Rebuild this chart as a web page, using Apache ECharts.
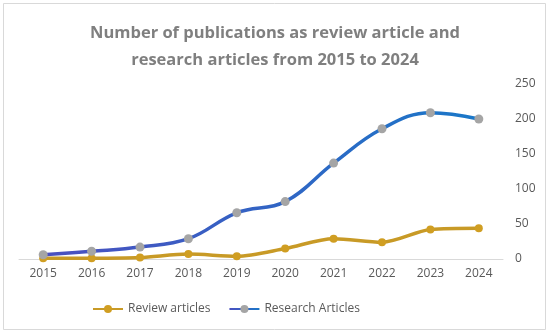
<!DOCTYPE html>
<html><head><meta charset="utf-8">
<script src="https://cdn.jsdelivr.net/npm/echarts@6/dist/echarts.min.js"></script>
<style>html,body{margin:0;padding:0;background:#fff}#c{width:550px;height:333px}</style>
</head><body><div id="c"></div>
<script>
const years = ['2015','2016','2017','2018','2019','2020','2021','2022','2023','2024'];
const reviewArticles = [1, 1, 2, 7, 4, 15, 29, 24, 42, 44];
const researchArticles = [6, 11, 17, 29, 66, 82, 137, 186, 209, 200];
const yTicks = {min: 0, max: 250, interval: 50};

const chart = echarts.init(document.getElementById('c'));
chart.setOption({
  backgroundColor: '#fff',
  animation: false,
  title: {
    text: 'Number of publications as review article and\nresearch articles from 2015 to 2024',
    left: 'center', top: 15,
    textStyle: {fontFamily: 'Open Sans', fontWeight: 'bold', fontSize: 16.5, color: '#7f7f7f', lineHeight: 27}
  },
  graphic: [{type: 'rect', shape: {x: 3.5, y: 3.5, width: 542, height: 326}, style: {fill: 'none', stroke: '#d9d9d9', lineWidth: 1}, silent: true}],
  legend: {
    bottom: 13, left: 87, itemGap: 18, itemWidth: 30, itemHeight: 10,
    textStyle: {fontFamily: 'Open Sans', fontSize: 12, color: '#595959'},
    data: ['Review articles', 'Research Articles']
  },
  grid: {left: 19, right: 47, top: 84, bottom: 74},
  xAxis: {
    type: 'category', data: years, boundaryGap: true,
    axisLine: {lineStyle: {color: '#d9d9d9'}}, axisTick: {show: false},
    axisLabel: {fontFamily: 'Open Sans', fontSize: 12, color: '#595959', margin: 9}
  },
  yAxis: {
    type: 'value', position: 'right', min: yTicks.min, max: yTicks.max, interval: yTicks.interval,
    axisLine: {show: false}, axisTick: {show: false}, splitLine: {show: false},
    axisLabel: {fontFamily: 'Open Sans', fontSize: 12, color: '#595959', margin: 12}
  },
  series: [
    {name: 'Review articles', type: 'line', data: reviewArticles, smooth: 0.3,
     lineStyle: {width: 3.5, color: '#c89a26'}, itemStyle: {color: '#d09e22'},
     symbol: 'circle', symbolSize: 8},
    {name: 'Research Articles', type: 'line', data: researchArticles, smooth: 0.4,
     lineStyle: {width: 3.5, color: new echarts.graphic.LinearGradient(0,0,1,0,[{offset:0,color:'#4b4fc0'},{offset:1,color:'#1a78c8'}])},
     itemStyle: {color: '#a5a5a5'},
     symbol: 'circle', symbolSize: 9}
  ]
});
</script></body></html>
